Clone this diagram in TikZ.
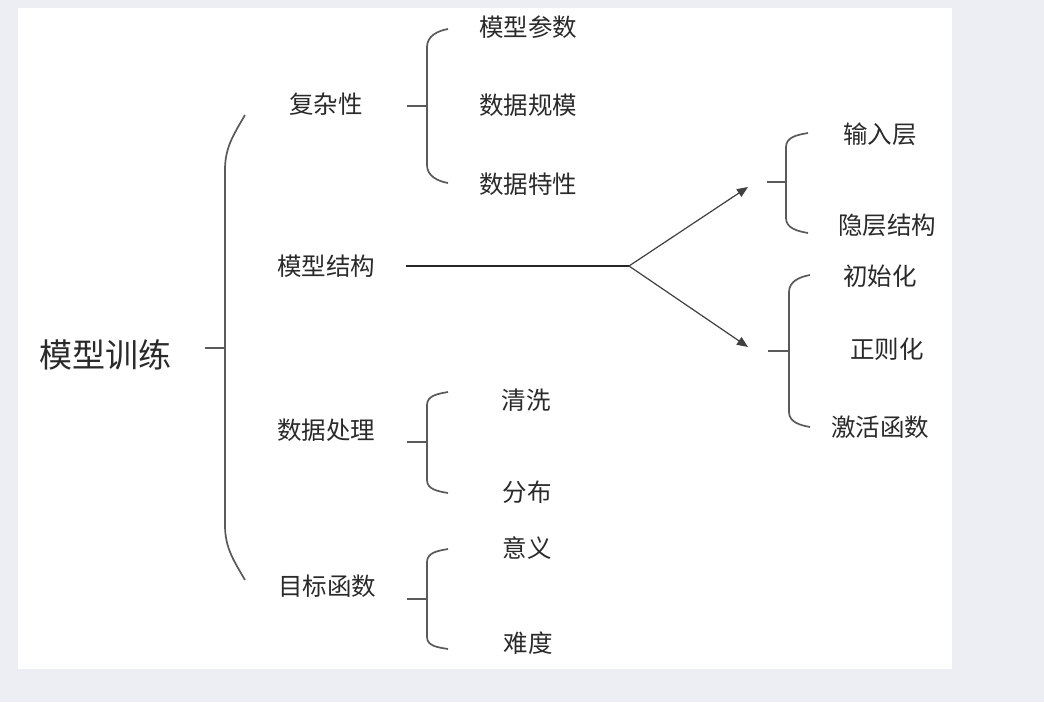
\documentclass[tikz,border=0pt]{standalone}
\usepackage{fontspec}
\newfontfamily\cjk{Noto Sans CJK SC}
\usetikzlibrary{arrows.meta}
\definecolor{bggrey}{HTML}{EDEEF3}
\definecolor{linegrey}{HTML}{5A5A5A}
\definecolor{txt}{HTML}{2A2A2A}
\tikzset{
  lbl/.style={font=\cjk\fontsize{24.5}{28}\selectfont, text=txt, inner sep=0pt, anchor=center},
  rootlbl/.style={font=\cjk\fontsize{33}{38}\selectfont, text=txt, inner sep=0pt, anchor=center},
  brace/.style={draw=linegrey, line width=1.7pt},
  mainline/.style={draw=black!85, line width=2.3pt},
  branch/.style={draw=black!75, line width=1.2pt, -{Triangle[length=11pt,width=9pt]}},
}
\begin{document}
\begin{tikzpicture}[x=1pt,y=-1pt]
\useasboundingbox (0,0) rectangle (1044,702);
\fill[bggrey] (0,0) rectangle (1044,702);
\fill[white] (18,8) rectangle (952,669);

% labels
\node[rootlbl] (root) at (105,355) {模型训练};
\node[lbl] (fz) at (326,104) {复杂性};
\node[lbl] (mx) at (326,266) {模型结构};
\node[lbl] (sj) at (326,430) {数据处理};
\node[lbl] (mb) at (327,586) {目标函数};
\node[lbl] (cs) at (528,27) {模型参数};
\node[lbl] (gm) at (528,105) {数据规模};
\node[lbl] (tx) at (528,184) {数据特性};
\node[lbl] (sr) at (880,134) {输入层};
\node[lbl] (yc) at (887,225) {隐层结构};
\node[lbl] (csh) at (880,276) {初始化};
\node[lbl] (zz) at (887,349) {正则化};
\node[lbl] (jh) at (880,427) {激活函数};
\node[lbl] (qx) at (526,400) {清洗};
\node[lbl] (fb) at (527,492) {分布};
\node[lbl] (yy) at (527,548) {意义};
\node[lbl] (nd) at (528,643) {难度};

% main brace
\coordinate (r0) at (205,348);
\coordinate (r1) at (225,348);
\draw[brace] (245,115) to[out=240,in=90] (225,170) -- (225,525) to[out=270,in=120] (245,580);
\draw[brace] (r0) -- (r1);

% brace 复杂性
\coordinate (f0) at (407,106);
\coordinate (f1) at (427,106);
\draw[brace] (448,29) to[out=190,in=90] (427,47) -- (427,165) to[out=270,in=170] (448,183);
\draw[brace] (f0) -- (f1);

% 模型结构 line and branches
\coordinate (m0) at (406,266);
\coordinate (mj) at (629,266);
\coordinate (au) at (748,187);
\coordinate (ad) at (748,347);
\draw[mainline] (m0) -- (mj);
\draw[branch] (mj) -- (au);
\draw[branch] (mj) -- (ad);

% brace 输入层
\coordinate (s0) at (767,182);
\coordinate (s1) at (786,182);
\draw[brace] (808,133) to[out=190,in=90] (786,147) -- (786,218) to[out=270,in=170] (808,233);
\draw[brace] (s0) -- (s1);

% brace 初始化
\coordinate (c0) at (768,351);
\coordinate (c1) at (789,351);
\draw[brace] (810,275) to[out=190,in=90] (789,292) -- (789,412) to[out=270,in=170] (810,427);
\draw[brace] (c0) -- (c1);

% brace 数据处理
\coordinate (d0) at (407,442);
\coordinate (d1) at (427,442);
\draw[brace] (448,392) to[out=190,in=90] (427,405) -- (427,480) to[out=270,in=170] (448,493);
\draw[brace] (d0) -- (d1);

% brace 目标函数
\coordinate (g0) at (407,599);
\coordinate (g1) at (427,599);
\draw[brace] (448,549) to[out=190,in=90] (427,562) -- (427,637) to[out=270,in=170] (448,649);
\draw[brace] (g0) -- (g1);
\end{tikzpicture}
\end{document}
